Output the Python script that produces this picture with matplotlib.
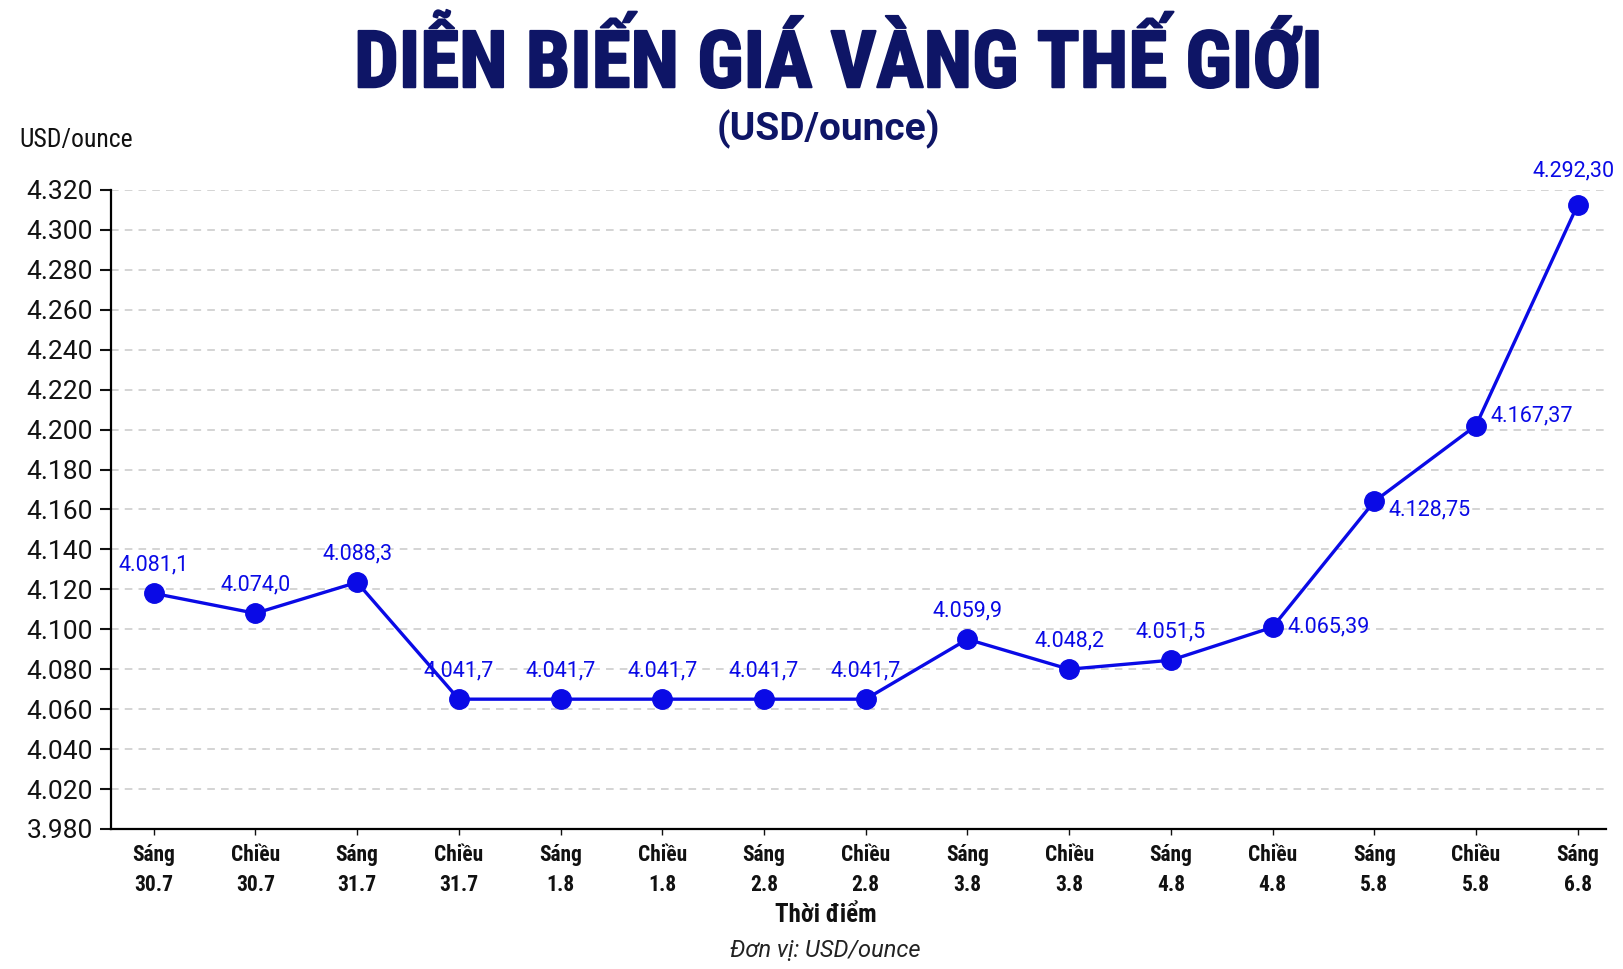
import matplotlib
matplotlib.use("Agg")
import matplotlib.pyplot as plt
import matplotlib.patheffects as pe

# data
thoi_diem = ["Sáng\n30.7", "Chiều\n30.7", "Sáng\n31.7", "Chiều\n31.7", "Sáng\n1.8",
             "Chiều\n1.8", "Sáng\n2.8", "Chiều\n2.8", "Sáng\n3.8", "Chiều\n3.8",
             "Sáng\n4.8", "Chiều\n4.8", "Sáng\n5.8", "Chiều\n5.8", "Sáng\n6.8"]
# vertical position of each point on the drawn axis
vi_tri = [4118, 4108, 4123.5, 4065, 4065, 4065, 4065, 4065, 4095, 4080,
          4084.5, 4101, 4164, 4202, 4312.5]
# printed value labels
nhan_gia = ["4.081,1", "4.074,0", "4.088,3", "4.041,7", "4.041,7", "4.041,7",
            "4.041,7", "4.041,7", "4.059,9", "4.048,2", "4.051,5", "4.065,39",
            "4.128,75", "4.167,37", "4.292,30"]
y_ticks = [4000, 4020, 4040, 4060, 4080, 4100, 4120, 4140, 4160, 4180,
           4200, 4220, 4240, 4260, 4280, 4300, 4320]
y_tick_labels = ["3.980", "4.020", "4.040", "4.060", "4.080", "4.100", "4.120",
                 "4.140", "4.160", "4.180", "4.200", "4.220", "4.240", "4.260",
                 "4.280", "4.300", "4.320"]

COND = ["Roboto Condensed", "Roboto", "DejaVu Sans"]
REG = ["Roboto", "DejaVu Sans"]
plt.rcParams["font.family"] = COND
NAVY = "#0e1566"
BLUE = "#0a0ae6"

fig = plt.figure(figsize=(16.24, 9.69), dpi=100)
ax = fig.add_axes([0.0683, 0.1445, 0.9207, 0.6595])

x = list(range(len(thoi_diem)))
ax.plot(x, vi_tri, color=BLUE, lw=2.4, marker="o", markersize=14, zorder=3,
        clip_on=False)

# label placement: (dx, dy, ha) in pixels
pos = [(0, 28, "center")] * 12 + [(14, -8, "left"), (15, 10, "left"), (-4, 34, "center")]
pos[11] = (15, 0, "left")
for i, (xi, yi, t) in enumerate(zip(x, vi_tri, nhan_gia)):
    dx, dy, ha = pos[i]
    ax.annotate(t, (xi, yi), xytext=(dx, dy), textcoords="offset pixels",
                ha=ha, va="center", color=BLUE, fontsize=15.5, family=REG,
                zorder=4, annotation_clip=False)

ax.set_xlim(-0.42, 14.28)
ax.set_ylim(4000, 4320)
ax.set_yticks(y_ticks)
ax.set_yticklabels(y_tick_labels, family=REG)
ax.set_xticks(x)
ax.set_xticklabels(thoi_diem, fontweight="bold", fontsize=15.5, linespacing=1.45)
ax.tick_params(axis="y", labelsize=19, length=8, width=1.5, pad=5, colors="#111111")
ax.tick_params(axis="x", length=4, width=1, pad=7, colors="#111111")

ax.grid(axis="y", color="#c9c9c9", linestyle=(0, (5, 4)), lw=1.1)
ax.set_axisbelow(True)
for s in ["top", "right"]:
    ax.spines[s].set_visible(False)
ax.spines["left"].set_linewidth(1.6)
ax.spines["bottom"].set_linewidth(1.6)

ax.set_xlabel("Thời điểm", fontsize=18, fontweight="bold", color="#111111")
ax.xaxis.set_label_coords(0.478, -0.116)

fig.text(0.516, 0.910, "DIỄN BIẾN GIÁ VÀNG THẾ GIỚI", ha="center", va="baseline",
         fontsize=57, fontweight="heavy", color=NAVY,
         path_effects=[pe.withStroke(linewidth=1.5, foreground=NAVY)])
fig.text(0.51, 0.867, "(USD/ounce)", ha="center", va="center", family=REG,
         fontsize=28, fontweight="bold", color=NAVY)
fig.text(0.012, 0.856, "USD/ounce", ha="left", va="center", fontsize=18.5,
         color="#111111")
fig.text(0.508, 0.019, "Đơn vị: USD/ounce", ha="center", va="center", family=REG,
         fontsize=17, style="italic", color="#222222")

fig.savefig("out.png", dpi=100, facecolor="white")
